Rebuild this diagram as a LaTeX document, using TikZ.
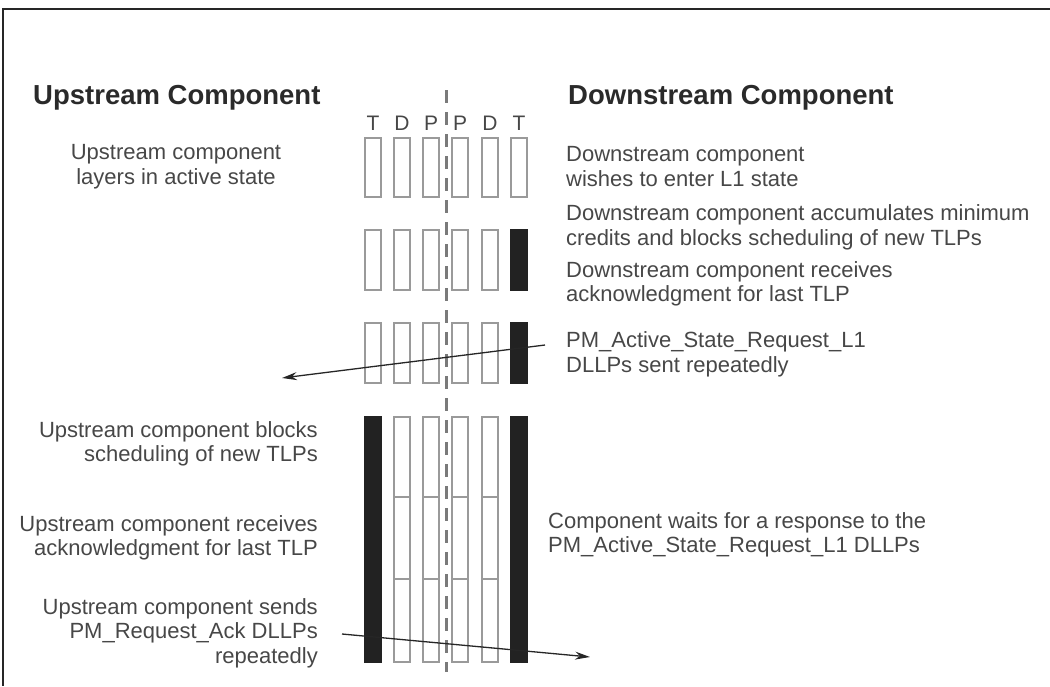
\documentclass[tikz,border=0pt]{standalone}
\usepackage{fontspec}
\setmainfont{Liberation Sans}
\usetikzlibrary{arrows.meta}
\definecolor{txt}{HTML}{474747}
\definecolor{head}{HTML}{2A2A2A}
\definecolor{boxline}{HTML}{9A9A9A}
\definecolor{barfill}{HTML}{222222}
\definecolor{dashc}{HTML}{7A7A7A}
\tikzset{
  body/.style={inner sep=0pt, text=txt, font=\fontsize{22}{24.5}\selectfont},
  heading/.style={inner sep=0pt, text=head, font=\fontsize{27.5}{30}\selectfont\bfseries, anchor=west},
  collabel/.style={inner sep=0pt, text=txt, font=\fontsize{21}{23}\selectfont},
  lay/.style={draw=boxline, line width=1.4pt, fill=white, minimum width=16, inner sep=0pt},
  bar/.style={draw=barfill, fill=barfill, line width=1.4pt, minimum width=16, inner sep=0pt},
  sig/.style={draw=black!85, line width=1.3pt, -{Stealth[length=15pt,width=8pt]}},
}
\begin{document}
\begin{tikzpicture}[x=1pt,y=-1pt]
\useasboundingbox (0,0) rectangle (1050,686);
% frame
\draw[line width=2pt, black!85] (1050,9) -- (3,9) -- (3,686);

% headings
\node[heading] (uphead) at (33,98) {Upstream Component};
\node[heading] (downhead) at (568,98) {Downstream Component};

% column labels
\foreach \x/\l/\n in {373/T/c1,402/D/c2,431/P/c3,460/P/c4,490/D/c5,519/T/c6}
  \node[collabel] (lab\n) at (\x,123) {\l};

% row 1 (all open)
\foreach \x/\n in {373/c1,402/c2,431/c3,460/c4,490/c5,519/c6}
  \node[lay, minimum height=59] (ra\n) at (\x,167.5) {};
% row 2
\foreach \x/\n in {373/c1,402/c2,431/c3,460/c4,490/c5}
  \node[lay, minimum height=60] (rb\n) at (\x,260) {};
\node[bar, minimum height=60] (rbc6) at (519,260) {};
% row 3
\foreach \x/\n in {373/c1,402/c2,431/c3,460/c4,490/c5}
  \node[lay, minimum height=60] (rc\n) at (\x,353) {};
\node[bar, minimum height=60] (rcc6) at (519,353) {};
% row 4
\node[bar, minimum height=245] (rdc1) at (373,539.5) {};
\foreach \x/\n in {402/c2,431/c3,460/c4,490/c5}{
  \node[lay, minimum height=245] (rd\n) at (\x,539.5) {};
  \draw[boxline, line width=1.2pt] (\x-8,497) -- (\x+8,497);
  \draw[boxline, line width=1.2pt] (\x-8,579) -- (\x+8,579);
}
\node[bar, minimum height=245] (rdc6) at (519,539.5) {};

% dashed divider
\draw[dashc, line width=3pt, dash pattern=on 13pt off 9pt] (446,90) -- (446,672);

% left texts
\node[body, align=center] (u1) at (176,166.5) {Upstream component\\layers in active state};
\node[body, align=right, anchor=east] (u2) at (318,444) {Upstream component blocks\\scheduling of new TLPs};
\node[body, align=right, anchor=east] (u3) at (318,538) {Upstream component receives\\acknowledgment for last TLP};
\node[body, align=right, anchor=east] (u4) at (318,633) {Upstream component sends\\PM\_Request\_Ack DLLPs\\repeatedly};

% right texts
\node[body, align=left, anchor=west] (d1) at (566,166.5) {Downstream component\\wishes to enter L1 state};
\node[body, align=left, anchor=west] (d2) at (566,227.5) {Downstream component accumulates minimum\\credits and blocks scheduling of new TLPs};
\node[body, align=left, anchor=west] (d3) at (566,284) {Downstream component receives\\acknowledgment for last TLP};
\node[body, align=left, anchor=west] (d4) at (566,354.5) {PM\_Active\_State\_Request\_L1\\DLLPs sent repeatedly};
\node[body, align=left, anchor=west] (d5) at (548,535) {Component waits for a response to the\\PM\_Active\_State\_Request\_L1 DLLPs};

% arrows
\coordinate (a1s) at (545,345);
\coordinate (a1e) at (282,378);
\draw[sig] (a1s) -- (a1e);
\coordinate (a2s) at (342,634);
\coordinate (a2e) at (590,657);
\draw[sig] (a2s) -- (a2e);
\end{tikzpicture}
\end{document}
